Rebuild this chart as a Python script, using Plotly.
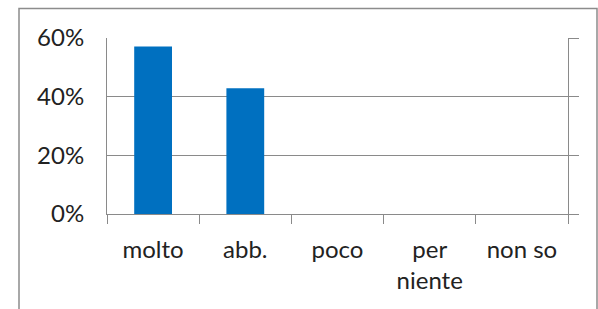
import plotly.graph_objects as go

categories = ["molto", "abb.", "poco", "per<br>niente", "non so"]
values = [0.571, 0.429, 0, 0, 0]
y_ticks = [0, 0.2, 0.4, 0.6]
y_tick_labels = ["0%", "20%", "40%", "60%"]

FONT = dict(family="Lato", size=24, color="#222222")
GRID = "#8a8a8a"

fig = go.Figure()
fig.add_trace(go.Bar(x=categories, y=values, marker=dict(color="#0070C0", line=dict(width=0)),
                     showlegend=False, hoverinfo="skip"))
fig.add_trace(go.Scatter(x=[], y=[], yaxis="y2", showlegend=False, hoverinfo="skip"))

W, H = 598, 309
L, R, T, B = 107, 30, 38, 95
pw, ph = W - L - R, H - T - B

fig.update_layout(
    width=W, height=H,
    margin=dict(l=L, r=R, t=T, b=B, pad=0, autoexpand=False),
    paper_bgcolor="white", plot_bgcolor="white",
    bargap=0.59,
    font=FONT,
    xaxis=dict(type="category", showgrid=False, showline=True, linecolor=GRID, linewidth=1,
               ticks="outside", tickson="boundaries", ticklen=9, tickcolor=GRID,
               tickfont=FONT, zeroline=False, automargin=False, ticklabelstandoff=14),
    yaxis=dict(range=[0, 0.6], tickvals=y_ticks, ticktext=y_tick_labels,
               showgrid=True, gridcolor=GRID, gridwidth=1, showline=True, linecolor=GRID,
               ticks="", ticklabelstandoff=17, tickfont=FONT, zeroline=False, automargin=False),
    yaxis2=dict(range=[0, 0.6], overlaying="y", side="right", tickvals=y_ticks,
                showticklabels=False, showgrid=False, showline=True, linecolor=GRID,
                ticks="outside", ticklen=10, tickcolor=GRID, zeroline=False, automargin=False),
)

# outer chart-area border
fig.add_shape(type="rect", xref="paper", yref="paper",
              x0=(19 - L) / pw, x1=(597 - L) / pw,
              y0=-0.8, y1=1 + (T - 8.5) / ph,
              line=dict(color="#8c8c8c", width=1.5), fillcolor="rgba(0,0,0,0)", layer="below")

fig.write_html("out.html", config={"displayModeBar": False},
               post_script="document.body.style.margin='0';document.body.style.padding='0';")
